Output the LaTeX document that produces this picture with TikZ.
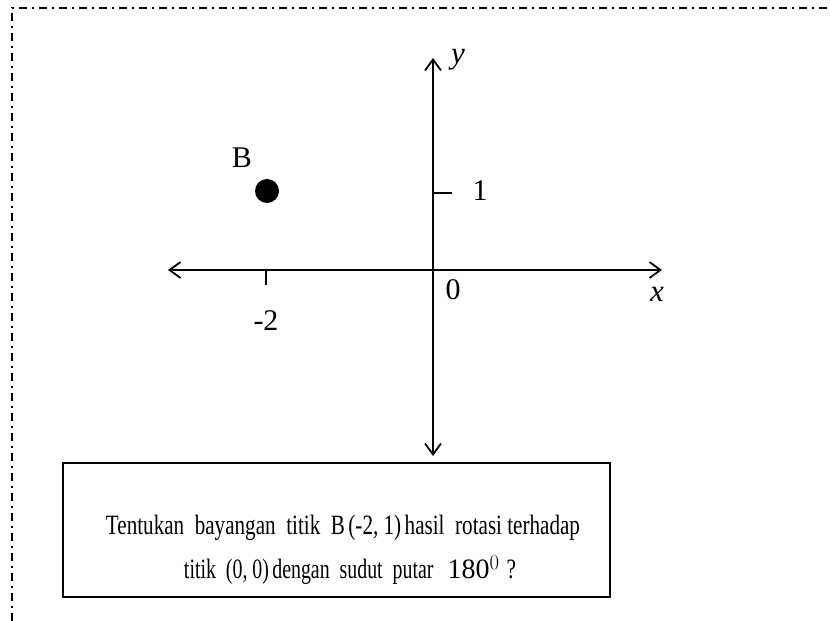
\documentclass[tikz,border=0pt]{standalone}
\usepackage{fontspec}
\setmainfont{Liberation Serif}
\usetikzlibrary{arrows.meta}
\begin{document}
\begin{tikzpicture}[x=1pt,y=-1pt,
  axis/.style={line width=1.8pt,-{Straight Barb[length=11pt,width=16pt,line width=1.8pt]}},
  lbl/.style={font=\fontsize{30}{32}\selectfont,inner sep=0pt},
  txt/.style={font=\fontsize{28}{32}\selectfont,inner sep=0pt},
  border/.style={line width=1.6pt,dash pattern=on 8pt off 5pt on 2pt off 5pt}]
\useasboundingbox (0,0) rectangle (830,621);
% border
\draw[border] (12,621) -- (12,8) -- (830,8);
% axes
\coordinate (o) at (433,270);
\coordinate (xl) at (168,270);
\coordinate (xr) at (662,270);
\coordinate (yt) at (433,58);
\coordinate (yb) at (433,456);
\draw[axis] (o) -- (xr);
\draw[axis] (o) -- (xl);
\draw[axis] (o) -- (yt);
\draw[axis] (o) -- (yb);
% ticks
\coordinate (tx) at (266,270);
\coordinate (txe) at (266,285);
\draw[line width=1.3pt] (tx) -- (txe);
\coordinate (ty) at (433,193);
\coordinate (tye) at (452,193);
\draw[line width=1.3pt] (ty) -- (tye);
% point B
\node[circle,fill=black,minimum size=24pt,inner sep=0pt] (B) at (267,191) {};
\node[lbl] (Bl) at (242,158) {B};
\node[lbl] (m2) at (266,321) {-2};
\node[lbl] (one) at (480,191) {1};
\node[lbl] (zero) at (453,290) {0};
\node[lbl,font=\fontsize{31}{32}\selectfont\itshape] (xlab) at (657,294) {x};
\node[lbl,font=\fontsize{31}{32}\selectfont\itshape] (ylab) at (458,60) {y};
% box
\draw[line width=1.3pt] (63,463) rectangle (610,597);
\node[txt] (t1) at (343,528) {\resizebox{474pt}{\height}{Tentukan\ \ bayangan\ \ titik\ \ B\,(-2, 1)\,hasil\ \ rotasi terhadap}};
\node[txt] (t2) at (350,570) {\scalebox{0.71}[1]{titik\ \ (0, 0)\,dengan\ \ sudut\ \ putar}\ \ 180$^{0}$\ \scalebox{0.76}[1]{?}};
\end{tikzpicture}
\end{document}
